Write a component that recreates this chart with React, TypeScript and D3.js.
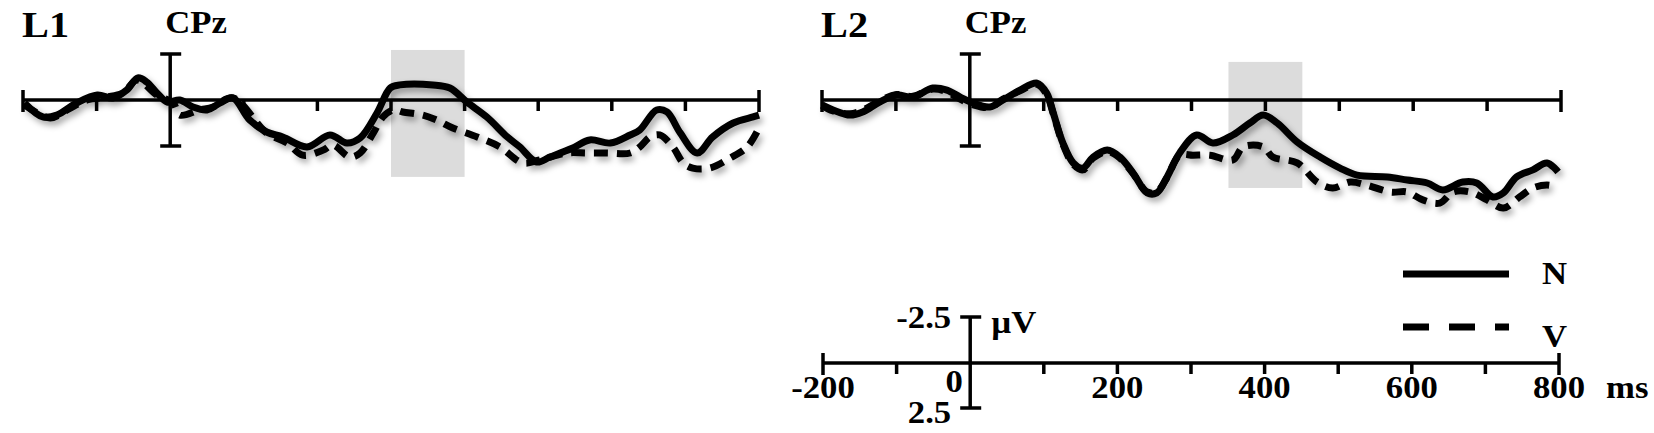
import React from "react"
import * as d3 from "d3"

// ERP waveforms at CPz, [ms, µV] (negative plotted up)
const l1N: [number, number][] = [
  [-198, 0.16], [-173, 0.92], [-154, 0.82], [-127, 0.16], [-99, -0.27], [-78, -0.11], [-59, -0.54],
  [-44, -1.2], [-32, -0.98], [-18, -0.38], [-4, 0.11], [13, 0], [31, 0.38], [50, 0.54], [68, 0.16],
  [85, -0.11], [108, 1.09], [131, 1.74], [153, 2.01], [186, 2.55], [217, 1.9], [240, 2.34], [258, 2.07],
  [281, 0.71], [299, -0.65], [312, -0.82], [357, -0.82], [380, -0.65], [403, 0.11], [430, 0.92],
  [458, 2.01], [475, 2.55], [498, 3.37], [516, 3.1], [547, 2.61], [570, 2.17], [598, 2.34], [625, 1.9],
  [638, 1.63], [661, 0.54], [675, 0.65], [693, 1.79], [716, 2.88], [737, 2.01], [765, 1.25], [792, 0.92],
  [800, 0.82],
]
const l1V: [number, number][] = [
  [-198, 0.27], [-163, 0.98], [-140, 0.54], [-113, 0], [-86, -0.16], [-64, -0.38], [-45, -1.09],
  [-18, -0.27], [4, 0.16], [13, 0.82], [40, 0.54], [58, 0.38], [85, -0.11], [131, 1.79], [159, 2.34],
  [180, 3.0], [208, 2.72], [221, 2.45], [244, 3.1], [258, 2.88], [276, 1.79], [289, 0.92], [303, 0.54],
  [316, 0.65], [343, 0.82], [362, 1.09], [384, 1.52], [417, 2.01], [448, 2.55], [479, 3.42], [502, 3.26],
  [539, 2.88], [566, 2.88], [593, 2.88], [625, 2.88], [638, 2.55], [652, 2.01], [665, 1.9], [683, 2.55],
  [697, 3.42], [710, 3.7], [733, 3.7], [761, 3.15], [784, 2.55], [800, 1.52],
]
const l2N: [number, number][] = [
  [-200, 0.27], [-185, 0.54], [-162, 0.82], [-145, 0.65], [-122, 0.11], [-99, -0.27], [-77, -0.16],
  [-50, -0.65], [-31, -0.54], [-13, -0.16], [4, 0.16], [27, 0.38], [45, 0], [68, -0.54], [91, -0.92],
  [104, -0.38], [113, 0.71], [126, 2.34], [140, 3.42], [153, 3.7], [167, 3.1], [186, 2.72], [203, 3.1],
  [221, 3.97], [240, 5.05], [253, 5.05], [267, 4.18], [284, 2.88], [307, 1.9], [329, 2.34], [356, 1.9],
  [379, 1.25], [397, 0.82], [416, 1.25], [443, 2.28], [474, 3.1], [501, 3.7], [524, 4.08], [565, 4.18],
  [592, 4.35], [619, 4.51], [640, 4.89], [667, 4.46], [686, 4.51], [708, 5.27], [722, 5.05], [740, 4.18],
  [762, 3.8], [781, 3.42], [796, 3.91],
]
const l2V: [number, number][] = [
  [-200, 0.3], [-185, 0.6], [-162, 0.75], [-145, 0.55], [-122, 0.05], [-99, -0.3], [-77, -0.2],
  [-50, -0.6], [-31, -0.45], [-13, -0.05], [4, 0.25], [27, 0.4], [45, -0.05], [68, -0.5], [91, -0.85],
  [104, -0.3], [113, 0.75], [126, 2.4], [140, 3.5], [153, 3.8], [167, 3.15], [186, 2.8], [203, 3.15],
  [221, 4.0], [240, 5.0], [253, 5.0], [267, 4.2], [284, 3.0], [302, 3.0], [325, 3.0], [356, 3.26],
  [370, 2.55], [397, 2.55], [410, 3.1], [443, 3.42], [470, 4.46], [491, 4.78], [515, 4.46], [537, 4.62],
  [569, 5.0], [592, 5.0], [613, 5.43], [636, 5.6], [654, 5.0], [677, 5.0], [700, 5.43], [722, 5.87],
  [744, 5.27], [762, 4.78], [781, 4.62], [795, 4.73],
]

const panelTitles = ["L1", "L2"]
const windowsMs: [number, number][] = [[300, 400], [350, 450]]
const windowsUv: [number, number][] = [[-2.72, 4.18], [-2.07, 4.78]]
const tickMs = [-200, -100, 0, 100, 200, 300, 400, 500, 600, 700, 800]
const tickLabels = [-200, 0, 200, 400, 600, 800]
const scaleUv = [-2.5, 2.5]
const legendItems = [
  { label: "N", dash: null },
  { label: "V", dash: "26,20" },
]

const W = 1654
const H = 433
const FONT = "'Liberation Serif', 'Times New Roman', serif"

const panels = [
  { title: panelTitles[0], left: 23, right: 759, axisY: 100, series: [l1N, l1V], win: windowsMs[0], winUv: windowsUv[0] },
  { title: panelTitles[1], left: 822, right: 1561, axisY: 100, series: [l2N, l2V], win: windowsMs[1], winUv: windowsUv[1] },
]

// the figure's lettering is a touch wider than plain Times
const T = ({ x, y, size, anchor = "start", children }: any) => (
  <text
    transform={`translate(${x},${y}) scale(1.12,1)`}
    textAnchor={anchor}
    fontFamily={FONT}
    fontWeight="bold"
    fontSize={size}
    fill="#000"
  >
    {children}
  </text>
)

const Axis = ({ x, y }: { x: d3.ScaleLinear<number, number>; y: number }) => (
  <g stroke="#000" strokeWidth={3.5}>
    <line x1={x(-200)} x2={x(800)} y1={y} y2={y} />
    {tickMs.map((t) =>
      t === -200 || t === 800 ? (
        <line key={t} x1={x(t)} x2={x(t)} y1={y - 10} y2={y + 12} />
      ) : t === 0 ? null : (
        <line key={t} x1={x(t)} x2={x(t)} y1={y} y2={y + 11} />
      )
    )}
  </g>
)

const ScaleBar = ({ cx, y }: { cx: number; y: d3.ScaleLinear<number, number> }) => (
  <g stroke="#000" strokeWidth={3.5}>
    <line x1={cx} x2={cx} y1={y(scaleUv[0])} y2={y(scaleUv[1])} />
    {scaleUv.map((v) => (
      <line key={v} x1={cx - 10} x2={cx + 11} y1={y(v)} y2={y(v)} />
    ))}
  </g>
)

export default function App() {
  return (
    <div style={{ position: "absolute", left: 0, top: 0 }}>
      <svg width={W} height={H} style={{ display: "block", background: "#fff" }}>
        <defs>
          <filter id="shadow" x="-5%" y="-20%" width="110%" height="160%">
            <feDropShadow dx="3" dy="4" stdDeviation="3" floodColor="#000" floodOpacity="0.35" />
          </filter>
        </defs>
        {panels.map((p) => {
          const x = d3.scaleLinear().domain([-200, 800]).range([p.left, p.right])
          const y = d3.scaleLinear().domain([-2.5, 2.5]).range([p.axisY - 46, p.axisY + 46])
          const line = d3
            .line<[number, number]>()
            .x((d) => x(d[0]))
            .y((d) => y(d[1]))
            .curve(d3.curveCatmullRom.alpha(0.5))
          return (
            <g key={p.title}>
              <rect
                x={x(p.win[0])}
                y={y(p.winUv[0])}
                width={x(p.win[1]) - x(p.win[0])}
                height={y(p.winUv[1]) - y(p.winUv[0])}
                fill="#dcdcdc"
              />
              <Axis x={x} y={p.axisY} />
              <ScaleBar cx={x(0)} y={y} />
              <g filter="url(#shadow)" fill="none" stroke="#000" strokeWidth={7}>
                <path d={line(p.series[1]) ?? ""} strokeDasharray="14,9" />
                <path d={line(p.series[0]) ?? ""} strokeLinejoin="round" />
              </g>
              <T x={p.left - 1} y={37} size={36}>{p.title}</T>
              <T x={x(0) - 5} y={33} size={31}>CPz</T>
            </g>
          )
        })}
        {(() => {
          const x = d3.scaleLinear().domain([-200, 800]).range([823, 1559])
          const axisY = 363
          const y = d3.scaleLinear().domain([-2.5, 2.5]).range([axisY - 46, axisY + 45])
          return (
            <g>
              <Axis x={x} y={axisY} />
              <ScaleBar cx={x(0)} y={y} />
              {tickLabels.map((t) =>
                t === 0 ? (
                  <T key={t} x={x(0) - 16} y={392} size={31} anchor="middle">0</T>
                ) : (
                  <T key={t} x={x(t)} y={398} size={31} anchor="middle">{t}</T>
                )
              )}
              <T x={x(800) + 47} y={398} size={31}>ms</T>
              <T x={x(0) - 19} y={328} size={31} anchor="end">{scaleUv[0]}</T>
              <T x={x(0) - 19} y={423} size={31} anchor="end">{scaleUv[1]}</T>
              <T x={x(0) + 21} y={333} size={31}>µV</T>
              {legendItems.map((it, i) => (
                <g key={it.label}>
                  <line
                    x1={1403}
                    x2={1509}
                    y1={274 + i * 53}
                    y2={274 + i * 53}
                    stroke="#000"
                    strokeWidth={7}
                    strokeDasharray={it.dash ?? undefined}
                  />
                  <T x={1542} y={284 + i * 63} size={31}>{it.label}</T>
                </g>
              ))}
            </g>
          )
        })()}
      </svg>
    </div>
  )
}
